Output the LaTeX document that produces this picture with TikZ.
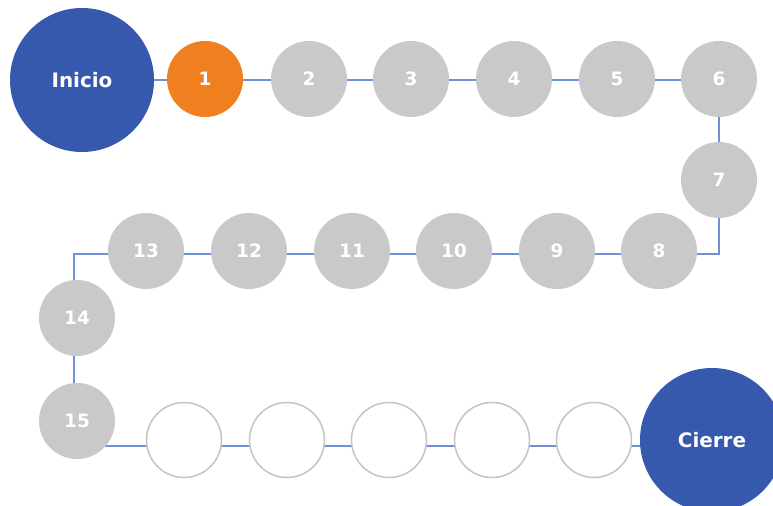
\documentclass[tikz,border=0pt]{standalone}
\usepackage{fontspec}
\setmainfont{DejaVu Sans}
\definecolor{bigblue}{HTML}{3659AD}
\definecolor{orng}{HTML}{F0801F}
\definecolor{grayc}{HTML}{C9C9C9}
\definecolor{linec}{HTML}{6F90D2}
\definecolor{ringc}{HTML}{C4C4C4}
\begin{document}
\begin{tikzpicture}[x=1bp,y=-1bp,
  big/.style={circle,fill=bigblue,minimum size=144bp,inner sep=0pt,text=white,font=\fontsize{20}{23}\selectfont\bfseries},
  cur/.style={circle,fill=orng,minimum size=76bp,inner sep=0pt,text=white,font=\fontsize{18.5}{21}\selectfont\bfseries},
  done/.style={circle,fill=grayc,minimum size=76bp,inner sep=0pt,text=white,font=\fontsize{18.5}{21}\selectfont\bfseries},
  todo/.style={circle,draw=ringc,line width=1.5bp,fill=white,minimum size=75bp,inner sep=0pt},
  path/.style={draw=linec,line width=2.2bp}]
\path[use as bounding box] (0,0) rectangle (773,506);
\clip (0,0) rectangle (773,506);
% route
\coordinate (c1) at (719,254);
\coordinate (c2) at (74,254);
\coordinate (c3) at (74,446);
\coordinate (c4) at (712,446);
\coordinate (c0) at (82,80);
\coordinate (c6) at (719,80);
\draw[path] (c0) -- (c6) -- (c1) -- (c2) -- (c3) -- (c4);
% nodes
\node[big] (ini) at (82,80) {Inicio};
\node[cur] (n1) at (205,79) {1};
\node[done] (n2) at (309,79) {2};
\node[done] (n3) at (411,79) {3};
\node[done] (n4) at (514,79) {4};
\node[done] (n5) at (617,79) {5};
\node[done] (n6) at (719,79) {6};
\node[done] (n7) at (719,180) {7};
\node[done] (n8) at (659,251) {8};
\node[done] (n9) at (557,251) {9};
\node[done] (n10) at (454,251) {10};
\node[done] (n11) at (352,251) {11};
\node[done] (n12) at (249,251) {12};
\node[done] (n13) at (146,251) {13};
\node[done] (n14) at (77,318) {14};
\node[done] (n15) at (77,421) {15};
\node[todo] (e1) at (184,440) {};
\node[todo] (e2) at (287,440) {};
\node[todo] (e3) at (389,440) {};
\node[todo] (e4) at (492,440) {};
\node[todo] (e5) at (594,440) {};
\node[big] (fin) at (712,440) {Cierre};
\end{tikzpicture}
\end{document}
